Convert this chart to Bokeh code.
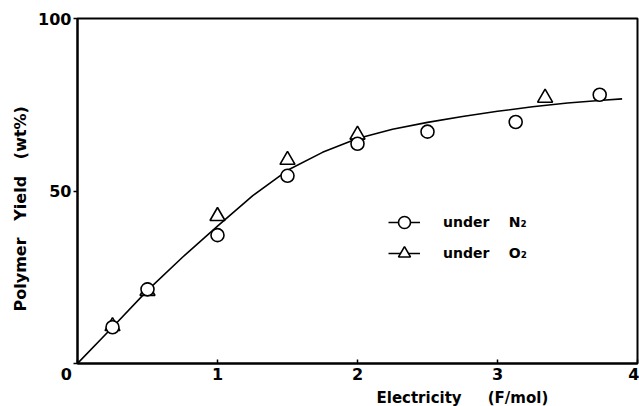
from bokeh.plotting import figure
from bokeh.models import Range1d, FixedTicker, Legend, LegendItem, Title
from bokeh.embed import file_html
from bokeh.resources import INLINE

# Data
n2_x = [0.25, 0.5, 1.0, 1.5, 2.0, 2.5, 3.13, 3.73]
n2_y = [10.5, 21.5, 37.2, 54.4, 63.7, 67.2, 70.0, 77.9]
o2_x = [0.25, 0.5, 1.0, 1.5, 2.0, 3.34]
o2_y = [10.8, 21.0, 42.7, 59.0, 66.3, 77.0]
curve_x = [0, 0.25, 0.5, 0.75, 1.0, 1.25, 1.5, 1.75, 2.0, 2.25, 2.5, 2.75, 3.0, 3.25, 3.5, 3.75, 3.89]
curve_y = [0, 10.5, 21.2, 30.8, 39.8, 48.6, 56.0, 61.2, 65.2, 67.9, 69.9, 71.6, 73.1, 74.4, 75.5, 76.3, 76.7]
x_ticks = [0, 1, 2, 3, 4]
y_ticks = [0, 50, 100]

FONT = "DejaVu Sans"
NB = "\u00a0"

p = figure(width=639, height=406, output_backend="svg", toolbar_location=None,
           x_range=Range1d(0, 4), y_range=Range1d(0, 100),
           min_border_left=77, min_border_right=2, min_border_top=18, min_border_bottom=43)
p.grid.visible = False
p.outline_line_color = "black"
p.outline_line_width = 2
p.background_fill_color = "white"
p.border_fill_color = "white"

p.xaxis.ticker = FixedTicker(ticks=x_ticks)
p.xaxis.major_label_overrides = {0: "0" + NB * 4}
p.yaxis.ticker = FixedTicker(ticks=y_ticks)
p.yaxis.major_label_overrides = {0: ""}
for ax in (p.xaxis, p.yaxis):
    ax.axis_line_width = 2
    ax.axis_line_color = "black"
    ax.major_tick_line_color = "black"
    ax.major_tick_line_width = 1.5
    ax.minor_tick_line_color = None
    ax.major_label_text_font = FONT
    ax.major_label_text_font_style = "bold"
    ax.major_label_text_font_size = "16px"
    ax.major_label_text_color = "black"
p.xaxis.major_tick_in = 4
p.xaxis.major_tick_out = 0
p.xaxis.major_label_standoff = 1
p.yaxis.major_tick_in = 0
p.yaxis.major_tick_out = 4
p.yaxis.major_label_standoff = 2

curve = p.line(curve_x, curve_y, line_color="black", line_width=1.6)
tri = p.scatter(o2_x, o2_y, marker="triangle", size=15, fill_color="white",
                line_color="black", line_width=1.6)
circ = p.scatter(n2_x, n2_y, marker="circle", size=13, fill_color="white",
                 line_color="black", line_width=1.6)

legend = Legend(items=[LegendItem(label="under" + NB * 4 + "N₂", renderers=[curve, circ]),
                       LegendItem(label="under" + NB * 4 + "O₂", renderers=[curve, tri])],
                location=(311, 95), orientation="vertical",
                glyph_width=32, glyph_height=30, label_height=30, spacing=1,
                label_standoff=23, padding=0, margin=0,
                border_line_alpha=0, background_fill_alpha=0,
                label_text_font=FONT, label_text_font_style="bold",
                label_text_font_size="14px", label_text_color="black")
p.add_layout(legend, "center")

xtitle = Title(text="Electricity" + NB * 5 + "(F/mol)", align="left", offset=299,
               text_font=FONT, text_font_style="bold", text_font_size="15px",
               text_color="black", standoff=0)
p.add_layout(xtitle, "below")
ytitle = Title(text="Polymer" + NB * 3 + "Yield" + NB * 3 + "(wt%)", align="left", offset=52,
               text_font=FONT, text_font_style="bold", text_font_size="16px",
               text_color="black", standoff=12)
p.add_layout(ytitle, "left")

open("out.html", "w").write(file_html(p, INLINE))
